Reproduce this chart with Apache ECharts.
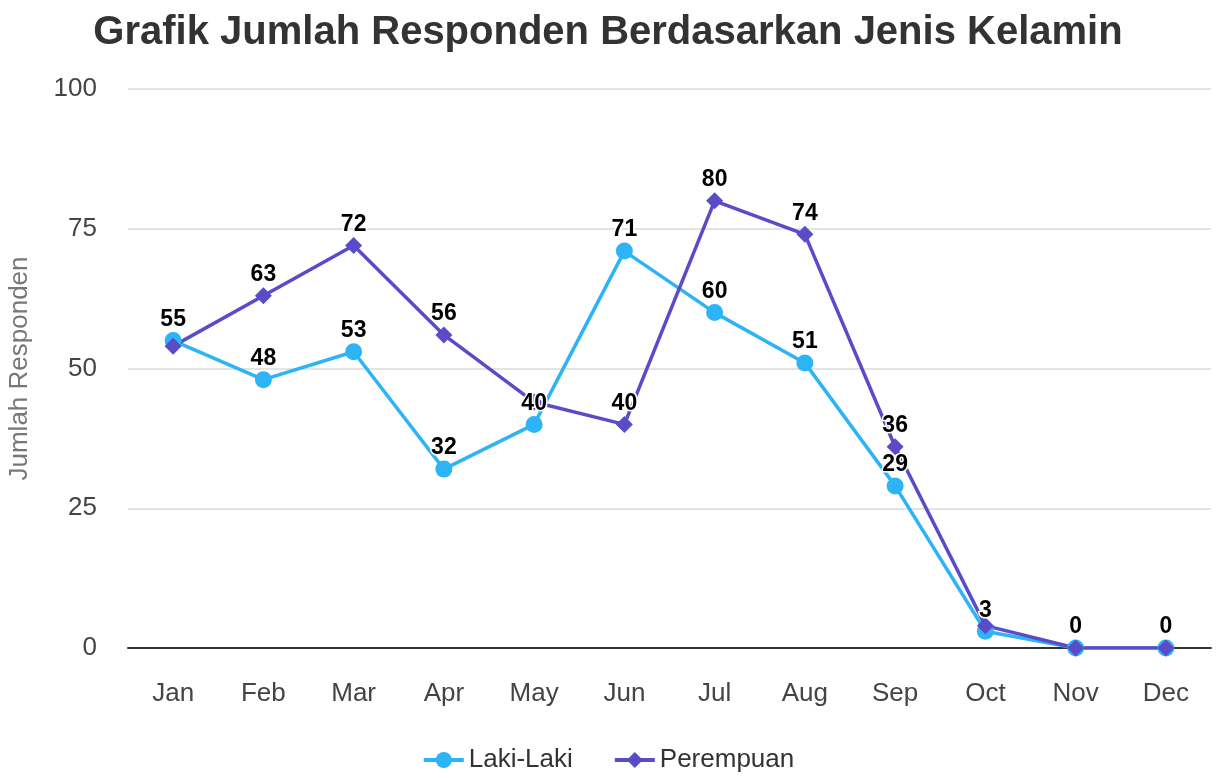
<!DOCTYPE html>
<html><head><meta charset="utf-8">
<script src="https://cdn.jsdelivr.net/npm/echarts@6/dist/echarts.min.js"></script>
<style>html,body{margin:0;padding:0;background:#fff}#c{width:1216px;height:778px}</style>
</head><body><div id="c"></div>
<script>
const months = ['Jan','Feb','Mar','Apr','May','Jun','Jul','Aug','Sep','Oct','Nov','Dec'];
const lakiLaki = [55,48,53,32,40,71,60,51,29,3,0,0];
const perempuan = [54,63,72,56,44,40,80,74,36,4,0,0];
const yTicks = [0,25,50,75,100];

const chart = echarts.init(document.getElementById('c'));
const font = 'Liberation Sans, Arial, sans-serif';
const labelStyle = {
  show: true, position: 'top', distance: 1,
  color: '#000', fontWeight: 'bold', fontSize: 23, fontFamily: font,
  textBorderColor: '#fff', textBorderWidth: 3
};
chart.setOption({
  animation: false,
  title: {
    text: 'Grafik Jumlah Responden Berdasarkan Jenis Kelamin',
    left: 'center', top: 8,
    textStyle: {fontSize: 40, fontWeight: 'bold', color: '#333', fontFamily: font}
  },
  legend: {
    bottom: 0, left: 'center', itemWidth: 40, itemHeight: 20, itemGap: 40,
    lineStyle: {width: 4},
    textStyle: {fontSize: 26, color: '#333', fontFamily: font},
    data: ['Laki-Laki','Perempuan']
  },
  grid: {left: 128, right: 5, top: 89, bottom: 130, containLabel: false, outerBoundsMode: 'none'},
  xAxis: {
    type: 'category', data: months, boundaryGap: true,
    axisLine: {lineStyle: {color: '#333', width: 2}},
    axisTick: {show: false},
    axisLabel: {fontSize: 26, color: '#444', margin: 33, fontFamily: font}
  },
  yAxis: {
    type: 'value', min: yTicks[0], max: yTicks[yTicks.length-1], interval: 25,
    name: 'Jumlah Responden', nameLocation: 'middle', nameGap: 95,
    nameTextStyle: {fontSize: 26, color: '#777', fontFamily: font},
    axisLine: {show: false}, axisTick: {show: false},
    axisLabel: {fontSize: 26, color: '#444', margin: 31, fontFamily: font},
    splitLine: {lineStyle: {color: '#e3e3e3', width: 2}}
  },
  series: [
    {
      name: 'Laki-Laki', type: 'line', data: lakiLaki,
      symbol: 'circle', symbolSize: 17,
      itemStyle: {color: '#2db4f7'},
      lineStyle: {width: 3.5, color: '#2db4f7'},
      label: labelStyle,
      labelLayout: {hideOverlap: true}
    },
    {
      name: 'Perempuan', type: 'line', data: perempuan,
      symbol: 'diamond', symbolSize: 17,
      itemStyle: {color: '#5a4bc6'},
      lineStyle: {width: 3.5, color: '#5a4bc6'},
      label: labelStyle,
      labelLayout: {hideOverlap: true}
    }
  ]
});
</script></body></html>
